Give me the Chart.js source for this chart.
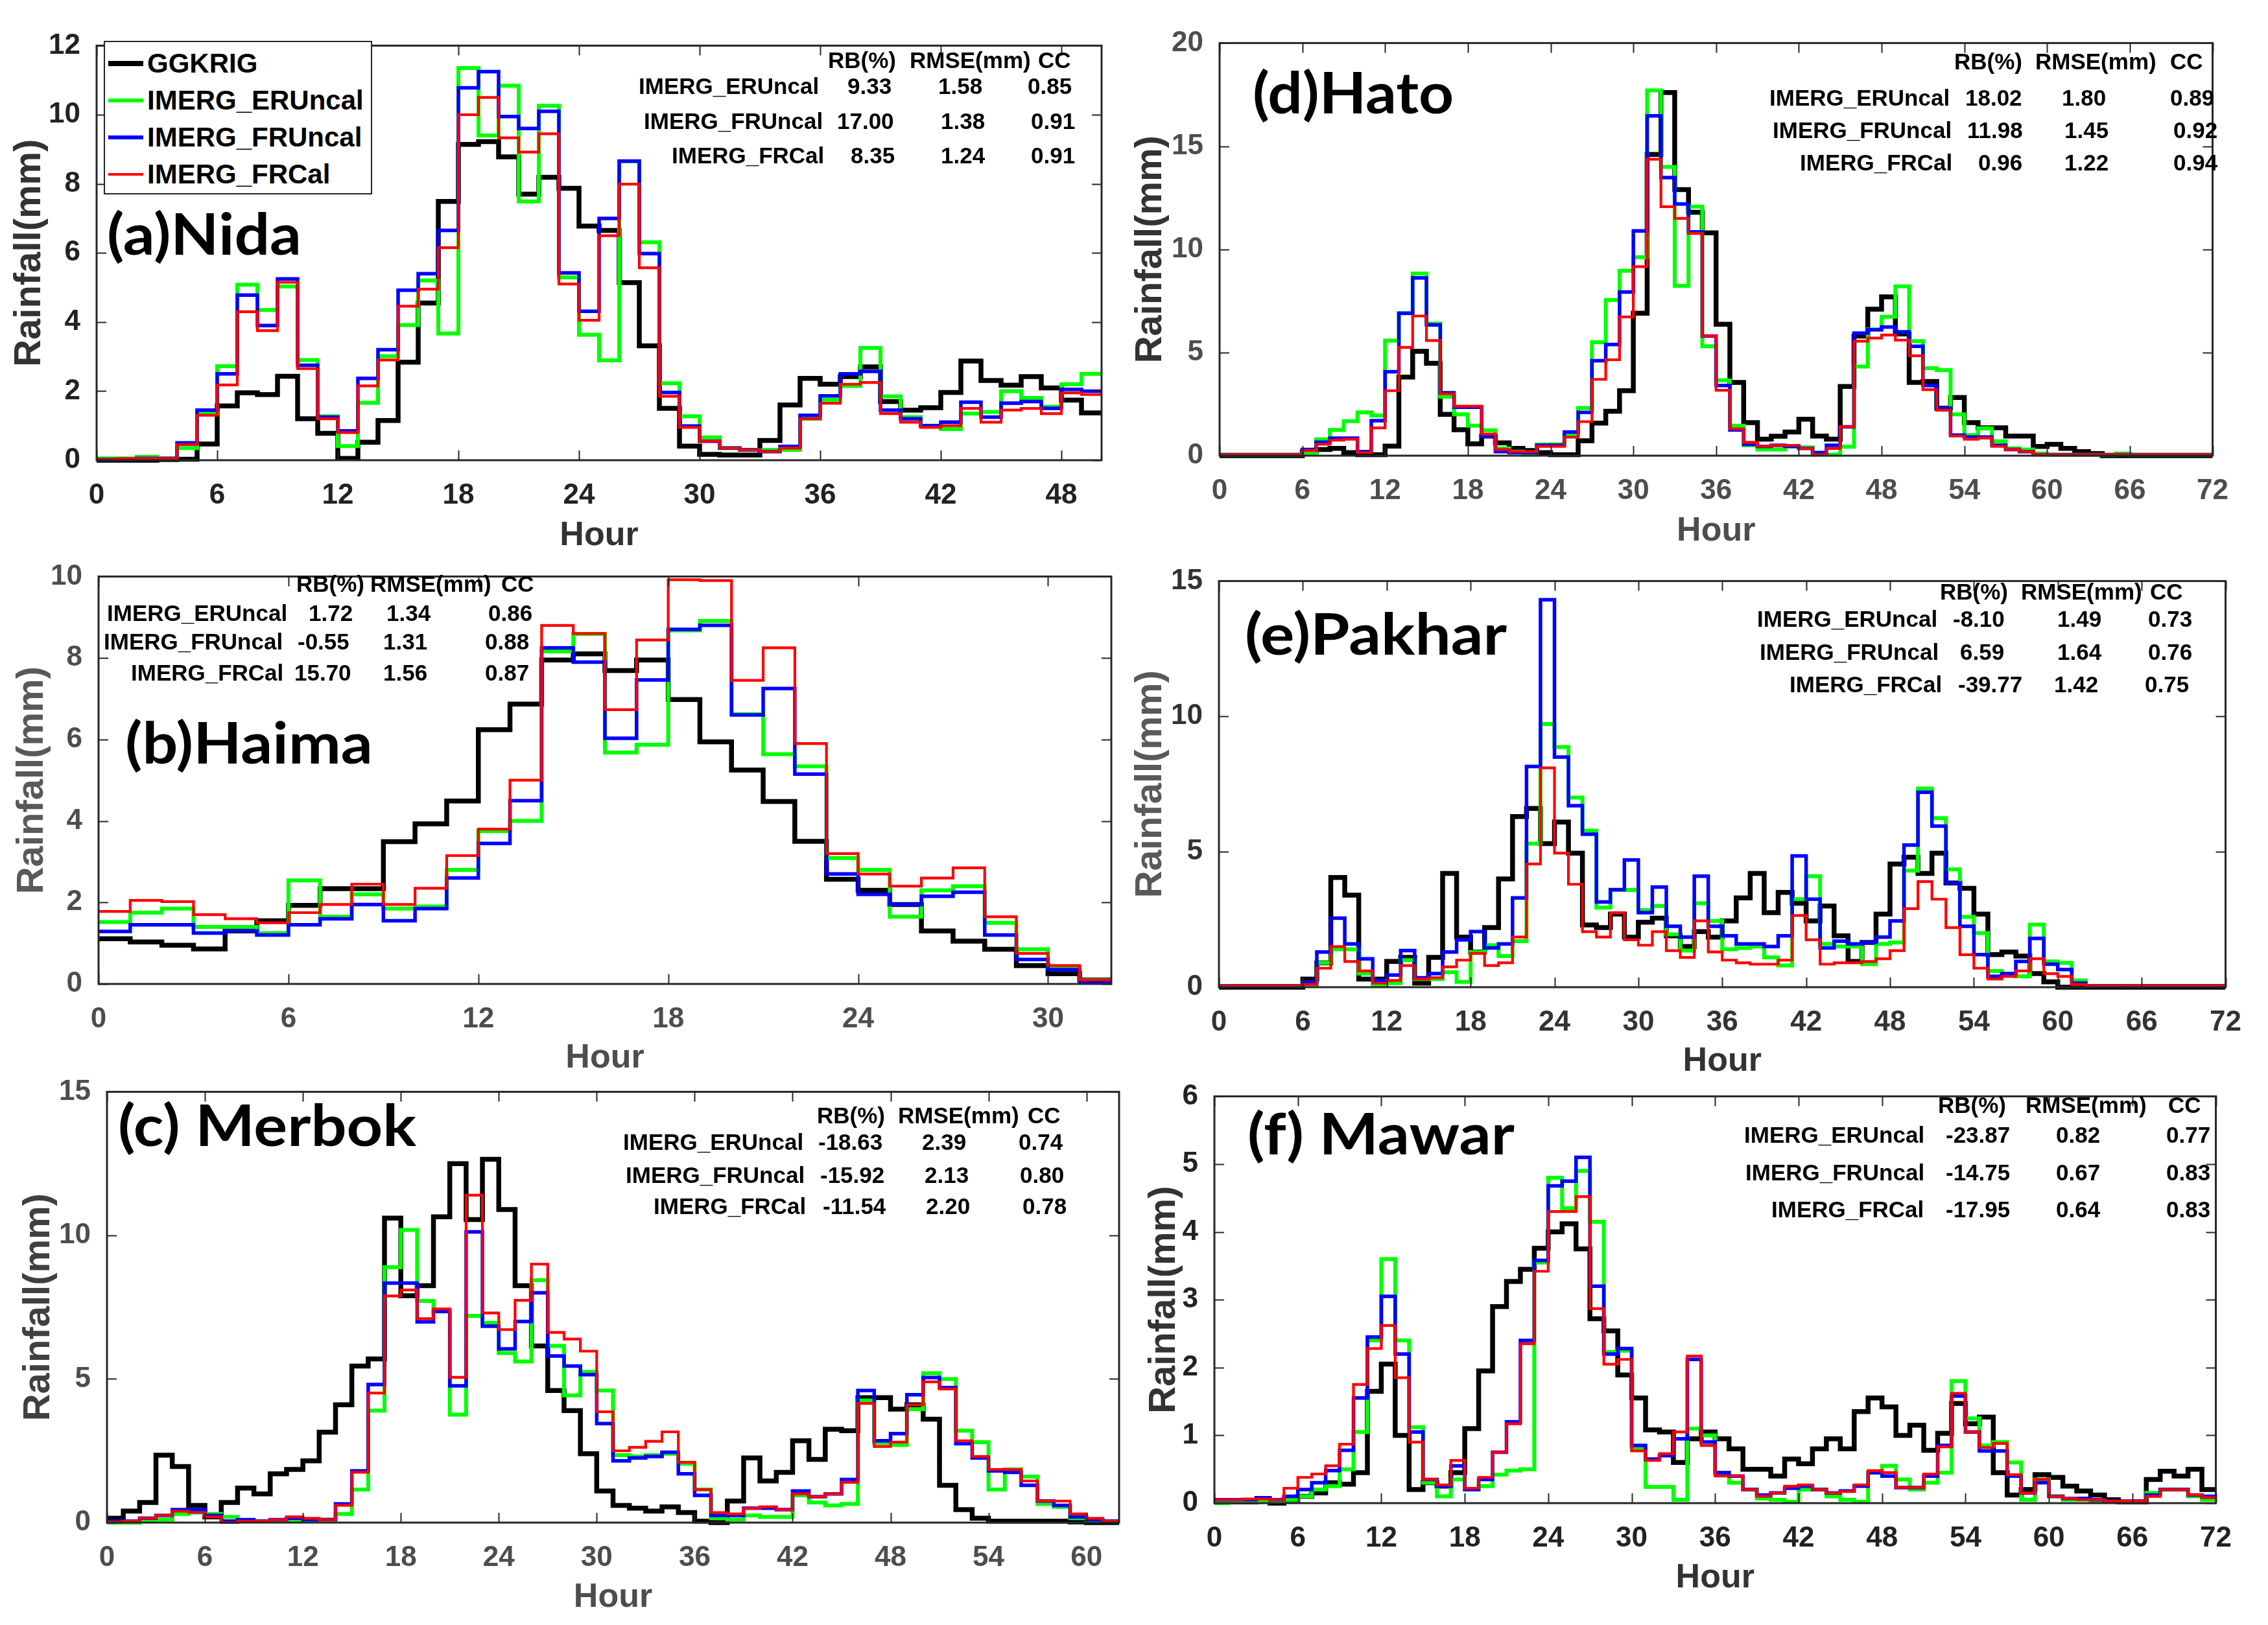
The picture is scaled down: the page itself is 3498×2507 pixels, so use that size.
<!DOCTYPE html>
<html>
<head>
<meta charset="utf-8">
<script src="https://cdn.jsdelivr.net/npm/chart.js@4.4.1/dist/chart.umd.min.js"></script>
<style>
  body { margin: 0; background: #fff; width: 3498px; height: 2507px; position: relative; overflow: hidden; }
  canvas { position: absolute; }
  .t { position: absolute; white-space: nowrap; font-family: "Liberation Sans", Arial, sans-serif; font-weight: bold; color: #000; z-index: 5; }
  .lab { font-family: Lato, "Open Sans", sans-serif; transform-origin: 0 0; }
  .legend { position: absolute; border: 2.5px solid #262626; background: #fff; z-index: 4; box-sizing: border-box; }
  .swatch { position: absolute; z-index: 5; }
</style>
</head>
<body>
<script>
// ---- data (hourly rainfall, mm) ----
const seriesNames = ["GGKRIG", "IMERG_ERUncal", "IMERG_FRUncal", "IMERG_FRCal"];
const statHeader = ["RB(%)", "RMSE(mm)", "CC"];
const statNames = ["IMERG_ERUncal", "IMERG_FRUncal", "IMERG_FRCal"];

// (a) Nida, 50 h
const nidaGG = [0,0,0,0.02,0.03,0.47,1.57,1.95,1.9,2.43, 1.2,0.78,0.05,0.52,1.15,2.84,4.55,7.49,9.14,9.22,
  8.78,7.7,8.19,7.87,6.78,6.65,5.14,3.31,1.5,0.41, 0.17,0.15,0.15,0.57,1.6,2.37,2.2,2.42,2.7,1.7,
  1.45,1.52,1.96,2.87,2.31,2.17,2.42,2.09,1.74,1.37];
const nidaER = [0.05,0.05,0.1,0.05,0.35,1.35,2.72,5.08,4.35,5.03, 2.9,1.27,0.41,1.66,3.01,3.91,5.2,3.67,11.35,9.4,
  10.84,7.49,10.26,5.29,3.63,2.89,8.65,6.31,2.23,1.27, 0.66,0.35,0.3,0.3,0.3,1.2,1.75,2.15,3.25,1.85,
  1.25,1.0,0.9,1.35,1.4,2.0,1.8,1.55,2.2,2.5];
const nidaFR = [0.02,0.02,0.05,0.05,0.5,1.45,2.5,4.78,3.9,5.25, 2.75,1.25,0.85,2.37,3.2,4.92,5.4,6.65,10.78,11.25,
  9.95,9.6,10.1,5.42,4.31,7.0,8.66,5.98,1.96,0.99, 0.55,0.35,0.3,0.25,0.4,1.3,1.86,2.5,2.57,1.45,
  1.2,1.0,1.1,1.68,1.25,1.65,1.7,1.5,2.05,2.0];
const nidaFRC = [0.02,0.05,0.05,0.05,0.45,1.3,2.18,4.3,3.75,5.15, 2.65,1.2,0.8,2.15,2.9,4.46,4.95,6.15,10.0,10.5,
  9.33,8.92,9.45,5.1,4.05,6.5,7.99,5.57,1.85,0.95, 0.55,0.35,0.3,0.25,0.35,1.2,1.65,2.2,2.25,1.35,
  1.1,0.95,1.0,1.5,1.1,1.45,1.5,1.35,1.95,1.9];
const nidaStats = [["9.33", "1.58", "0.85"], ["17.00", "1.38", "0.91"], ["8.35", "1.24", "0.91"]];

// (d) Hato, 72 h
const hatoGG = [0,0,0,0,0,0, 0.2,0.3,0.35,0.15,0.05,0.05, 0.46,3.81,5.06,4.48,2.0,1.26, 0.57,0.95,0.62,0.35,0.25,0.15,
  0.05,0.05,0.72,1.58,2.15,3.15, 6.9,14.6,17.6,12.9,11.8,10.8, 6.37,3.55,1.6,0.8,0.94,1.15, 1.77,0.95,0.8,3.35,5.8,7.1,
  7.7,5.9,3.55,3.6,2.3,2.82, 1.6,1.35,1.35,0.95,0.95,0.45, 0.55,0.35,0.2,0.1,0,0, 0,0,0,0,0,0];
const hatoER = [0.05,0.05,0.05,0.05,0.05,0.05, 0.1,0.79,1.25,1.67,2.1,1.95, 5.58,6.9,8.83,6.4,2.86,2.0, 1.45,1.23,0.35,0.2,0.05,0.54,
  0.55,1.0,2.31,5.5,7.55,8.96, 9.62,17.7,14.0,8.23,12.07,5.3, 3.65,1.45,0.5,0.3,0.3,0.45, 0.4,0.05,0.05,0.43,4.32,6.12,
  6.73,8.21,5.55,4.24,4.15,2.0, 1.0,1.33,0.7,0.35,0.3,0.1, 0.05,0.05,0.05,0.05,0.05,0.1, 0.05,0.05,0.05,0.05,0.05,0.05];
const hatoFR = [0.05,0.05,0.05,0.05,0.05,0.05, 0.3,0.65,0.85,0.85,0.2,1.7, 4.07,6.9,8.62,6.34,3.05,2.35, 2.35,0.95,0.2,0.15,0.15,0.5,
  0.5,1.15,2.1,4.6,5.39,7.93, 10.89,16.47,13.48,12.2,10.85,5.8, 3.4,1.25,0.55,0.45,0.5,0.45, 0.35,0.15,0.5,1.4,5.94,6.1,
  6.24,6.0,5.3,3.4,2.3,1.0, 0.9,0.9,0.5,0.3,0.2,0.05, 0.05,0.05,0.05,0.05,0.05,0.05, 0.05,0.05,0.05,0.05,0.05,0.05];
const hatoFRC = [0.05,0.05,0.05,0.05,0.05,0.05, 0.25,0.55,0.75,0.8,0.15,1.35, 3.15,5.25,6.77,5.58,3.0,2.4, 2.4,1.05,0.3,0.2,0.2,0.45,
  0.45,0.9,1.65,3.7,4.65,6.73, 9.16,14.37,12.07,11.5,10.77,5.8, 3.17,1.3,0.65,0.45,0.5,0.5, 0.35,0.05,0.35,1.4,5.55,5.7,
  5.85,5.6,4.84,3.2,2.2,0.95, 0.8,0.85,0.45,0.3,0.2,0.05, 0.05,0.05,0.05,0.05,0.05,0.05, 0.05,0.05,0.05,0.05,0.05,0.05];
const hatoStats = [["18.02", "1.80", "0.89"], ["11.98", "1.45", "0.92"], ["0.96", "1.22", "0.94"]];

// (b) Haima, 32 h
const haimaGG = [1.11,1.03,0.95,0.86,1.3,1.55,1.93,2.34,2.34,3.49, 3.93,4.49,6.24,6.87,7.95,8.1,7.69,7.95,6.98,5.94,
  5.25,4.48,3.5,2.57,2.3,1.95,1.3,1.05,0.85,0.45, 0.25,0.1];
const haimaER = [1.52,1.75,1.85,1.4,1.4,1.25,2.54,1.65,2.2,1.85, 1.9,2.8,3.75,4.0,8.16,8.59,5.68,5.87,8.68,8.91,
  6.62,5.64,5.34,3.09,2.8,1.65,2.3,2.4,1.5,0.85, 0.4,0.1];
const haimaFR = [1.29,1.45,1.45,1.25,1.3,1.2,1.45,1.6,1.95,1.55, 1.85,2.6,3.45,4.5,8.25,7.9,6.03,7.46,8.7,8.8,
  6.6,7.25,5.15,2.7,2.2,1.95,2.15,2.25,1.2,0.6, 0.35,0.05];
const haimaFRC = [1.78,2.05,2.02,1.7,1.6,1.5,1.75,1.95,2.45,1.95, 2.35,3.15,3.8,5.0,8.8,8.6,6.73,8.44,9.92,9.9,
  7.45,8.25,5.9,3.2,2.7,2.4,2.6,2.85,1.65,0.75, 0.45,0.1];
const haimaStats = [["1.72", "1.34", "0.86"], ["-0.55", "1.31", "0.88"], ["15.70", "1.56", "0.87"]];

// (e) Pakhar, 72 h
const pakharGG = [0,0,0,0,0,0, 0.3,0.9,4.05,3.4,0.3,0.3, 0.95,1.1,0.15,1.1,4.2,1.85, 1.3,2.2,4.0,6.3,6.6,5.3,
  6.1,4.95,2.3,2.2,2.7,1.85, 2.4,2.55,1.9,1.5,2.05,1.85, 2.45,3.3,4.2,2.75,3.5,3.1, 2.45,3.0,1.9,0.95,1.65,2.7,
  4.55,4.8,4.2,4.95,3.85,3.65, 2.7,1.2,1.3,1.15,0.5,0.2, 0,0,0,0,0,0, 0,0,0,0,0,0];
const pakharER = [0.05,0.05,0.05,0.05,0.05,0.05, 0.1,0.9,1.4,1.4,0.5,0.05, 0.15,1.0,0.3,0.3,0.55,0.2, 1.3,1.55,1.15,1.7,5.3,9.72,
  8.87,7.0,5.78,2.94,3.59,3.59, 2.85,3.0,1.95,1.35,3.1,2.45, 1.4,1.45,1.5,1.1,0.8,3.25, 4.1,1.6,1.5,1.5,0.85,1.6,
  1.65,4.3,7.34,6.24,4.35,2.6, 2.0,0.6,0.45,0.4,2.31,0.95, 0.9,0.25,0.05,0.05,0.05,0.05, 0.05,0.05,0.05,0.05,0.05,0.05];
const pakharFR = [0.05,0.05,0.05,0.05,0.05,0.05, 0.2,1.3,2.55,1.6,1.05,0.25, 0.45,1.35,0.35,0.5,1.3,1.75, 2.05,1.45,1.6,3.3,8.15,14.31,
  8.5,6.7,5.65,3.15,3.6,4.7, 2.75,3.7,2.25,1.85,4.1,2.25, 1.9,1.6,1.6,1.5,1.9,4.85, 3.25,1.45,1.7,1.6,1.65,1.85,
  2.45,5.25,7.2,5.95,3.85,2.25, 1.2,0.4,0.5,0.95,1.8,0.85, 0.65,0.15,0.05,0.05,0.05,0.05, 0.05,0.05,0.05,0.05,0.05,0.05];
const pakharFRC = [0.05,0.05,0.05,0.05,0.05,0.05, 0.1,0.7,1.5,0.95,0.6,0.15, 0.25,0.8,0.3,0.35,0.75,1.0, 1.25,0.8,0.9,1.85,4.55,8.1,
  4.95,3.8,2.05,1.85,2.75,1.75, 1.55,2.05,1.35,1.1,2.45,1.3, 1.0,0.9,0.85,0.85,1.0,2.65, 1.75,0.85,0.9,0.9,0.95,1.05,
  1.35,2.9,3.9,3.25,2.2,1.2, 0.7,0.3,0.4,0.6,1.05,0.5, 0.4,0.1,0.05,0.05,0.05,0.05, 0.05,0.05,0.05,0.05,0.05,0.05];
const pakharStats = [["-8.10", "1.49", "0.73"], ["6.59", "1.64", "0.76"], ["-39.77", "1.42", "0.75"]];

// (c) Merbok, 62 h
const merbokGG = [0.15,0.4,0.7,2.35,1.95,0.6,0.2,0.7,1.2,1.0, 1.7,1.85,2.15,3.15,4.1,5.45,5.7,10.6,7.9,8.25,
  10.65,12.5,10.55,12.65,10.9,8.25,6.15,4.6,3.9,2.4, 1.1,0.6,0.5,0.4,0.55,0.35,0.05,0.0,0.75,2.25,
  1.45,1.75,2.85,2.2,3.25,3.2,4.35,4.35,3.95,4.1, 3.6,1.3,0.45,0.15,0.05,0.05,0.05,0.05,0.05,0.02, 0,0];
const merbokER = [0,0,0.05,0.1,0.3,0.35,0.3,0.2,0.05,0.05, 0.05,0.05,0.05,0.1,0.3,1.15,3.9,8.89,10.19,7.72,
  7.35,3.76,7.2,6.95,5.9,5.61,8.44,6.15,4.43,5.25, 4.6,2.35,2.3,2.35,2.4,2.05,1.15,0.15,0.1,0.25,
  0.2,0.2,0.95,0.7,0.6,0.65,4.25,2.77,2.7,3.95, 5.2,5.0,3.2,2.8,1.15,1.85,1.6,0.65,0.55,0.15, 0.05,0.05];
const merbokFR = [0.05,0.05,0.15,0.25,0.45,0.45,0.25,0.05,0.1,0.05, 0.1,0.15,0.1,0.1,0.65,1.8,4.81,8.34,8.34,6.99,
  7.35,4.76,10.12,6.84,6.05,7.0,8.0,5.8,5.45,5.15, 3.45,2.15,2.25,2.3,2.45,1.7,0.95,0.25,0.25,0.5,
  0.5,0.45,1.1,0.9,1.0,1.5,4.6,2.85,3.1,4.45, 5.05,4.7,2.75,2.25,1.8,1.75,1.3,0.75,0.6,0.2, 0.1,0.05];
const merbokFRC = [0.02,0.05,0.15,0.25,0.4,0.35,0.2,0.0,0.05,0.05, 0.1,0.2,0.15,0.1,0.6,1.75,4.51,7.89,8.1,7.1,
  7.44,5.06,11.4,7.3,6.72,7.74,9.0,6.62,6.39,5.97, 3.86,2.5,2.62,2.83,3.16,2.1,1.15,0.35,0.3,0.5,
  0.55,0.45,1.0,0.9,1.0,1.4,4.15,2.65,2.8,4.1, 4.9,4.65,2.85,2.3,1.85,1.85,1.45,0.75,0.75,0.3, 0.15,0.05];
const merbokStats = [["-18.63", "2.39", "0.74"], ["-15.92", "2.13", "0.80"], ["-11.54", "2.20", "0.78"]];

// (f) Mawar, 72 h
const mawarGG = [0.02,0.02,0.02,0.03,0.0,0.05, 0.1,0.15,0.3,0.28,0.45,1.65, 2.05,1.0,0.2,0.3,0.25,0.45, 1.1,1.95,2.9,3.27,3.45,3.76,
  4.0,4.12,3.75,2.72,2.54,1.89, 1.55,1.08,1.05,0.6,0.95,1.05, 0.95,0.8,0.5,0.5,0.4,0.65, 0.58,0.8,0.95,0.8,1.35,1.55,
  1.42,1.0,1.15,0.78,1.03,1.47, 1.17,1.27,0.45,0.12,0.2,0.42, 0.38,0.25,0.18,0.12,0.05,0.02, 0.02,0.35,0.47,0.4,0.5,0.2];
const mawarER = [0,0.02,0.02,0.03,0.02,0.05, 0.1,0.2,0.25,0.5,1.05,2.4, 3.6,2.4,1.12,0.3,0.1,0.35, 0.2,0.25,0.42,0.48,0.5,3.55,
  4.8,4.35,4.9,4.15,2.23,2.25, 0.8,0.24,0.24,0.05,1.1,1.0, 0.45,0.3,0.2,0.07,0.05,0.02, 0.2,0.2,0.1,0.05,0.02,0.45,
  0.55,0.35,0.2,0.3,0.45,1.8, 1.25,0.85,0.9,0.6,0.05,0.35, 0.1,0.05,0.05,0.03,0.02,0.02, 0.02,0.15,0.2,0.2,0.1,0.05];
const mawarFR = [0.05,0.05,0.05,0.08,0.05,0.1, 0.2,0.3,0.48,0.78,1.55,2.45, 3.05,2.2,1.05,0.35,0.25,0.55, 0.2,0.35,0.75,1.2,2.4,3.58,
  4.68,4.75,5.1,3.2,2.2,2.28, 0.85,0.65,0.7,0.95,2.12,0.9, 0.45,0.4,0.2,0.12,0.15,0.22, 0.25,0.2,0.15,0.18,0.25,0.45,
  0.4,0.23,0.23,0.4,0.85,1.58, 1.05,0.77,0.77,0.4,0.15,0.3, 0.1,0.07,0.07,0.05,0.03,0.02, 0.03,0.12,0.2,0.2,0.12,0.1];
const mawarFRC = [0.05,0.05,0.06,0.06,0.05,0.22, 0.38,0.43,0.55,0.87,1.75,2.28, 2.62,1.85,0.9,0.35,0.27,0.63, 0.22,0.38,0.75,1.17,2.35,3.42,
  4.3,4.3,4.52,2.87,2.05,2.12, 0.77,0.63,0.73,1.05,2.17,0.85, 0.4,0.4,0.2,0.1,0.15,0.25, 0.27,0.2,0.15,0.17,0.27,0.48,
  0.45,0.23,0.23,0.43,0.83,1.62, 1.05,0.82,0.88,0.42,0.15,0.35, 0.1,0.07,0.05,0.05,0.03,0.03, 0.03,0.1,0.2,0.2,0.12,0.08];
const mawarStats = [["-23.87", "0.82", "0.77"], ["-14.75", "0.67", "0.83"], ["-17.95", "0.64", "0.83"]];

// ---- styles & layout ----
const seriesStyle = [
  { color: "#000000", width: 7.5 },
  { color: "#00ff00", width: 6 },
  { color: "#0000ff", width: 5.5 },
  { color: "#ff0000", width: 4.2 }
];
const FONT = "Liberation Sans";
const TICK_SIZE = 44, X_TITLE_SIZE = 52, Y_TITLE_SIZE = 58, STAT_SIZE = 35, LABEL_SIZE = 88;
const PAD_T = 20, PAD_R = 20;
const X_STEP = 6;

// lab: [left, baseline, target width]
const panels = [
  { label: "(a)Nida", series: [nidaGG, nidaER, nidaFR, nidaFRC], stats: nidaStats,
    xMax: 50, yMax: 12, yStep: 2, plot: [149, 47, 1699, 710], yTitleX: 46, xTitleY: 827,
    tickColor: "#222", xTitleColor: "#333", yTitleColor: "#333", lab: [165, 393, 300],
    head: [1277, 1403, 1601, 105],
    rows: [[145, 985, 1307, 1447, 1585], [199, 993, 1291, 1451, 1590], [252, 1036, 1312, 1451, 1590]] },
  { label: "(d)Hato", series: [hatoGG, hatoER, hatoFR, hatoFRC], stats: hatoStats,
    xMax: 72, yMax: 20, yStep: 5, plot: [1881, 43, 3437, 703], yTitleX: 1775, xTitleY: 820,
    tickColor: "#4d4d4d", xTitleColor: "#4d4d4d", yTitleColor: "#333", lab: [1932, 175, 310],
    head: [3014, 3139, 3347, 107],
    rows: [[163, 2729, 3031, 3180, 3347], [213, 2734, 3034, 3184, 3352], [263, 2776, 3051, 3184, 3352]] },
  { label: "(b)Haima", series: [haimaGG, haimaER, haimaFR, haimaFRC], stats: haimaStats,
    xMax: 32, yMax: 10, yStep: 2, plot: [152, 866, 1714, 1518], yTitleX: 50, xTitleY: 1633,
    tickColor: "#4d4d4d", xTitleColor: "#4d4d4d", yTitleColor: "#595959", lab: [193, 1178, 382],
    head: [457, 571, 773, 913],
    rows: [[958, 165, 476, 596, 753], [1002, 160, 459, 591, 748], [1050, 202, 454, 591, 748]] },
  { label: "(e)Pakhar", series: [pakharGG, pakharER, pakharFR, pakharFRC], stats: pakharStats,
    xMax: 72, yMax: 15, yStep: 5, plot: [1880, 873, 3457, 1523], yTitleX: 1775, xTitleY: 1638,
    tickColor: "#333", xTitleColor: "#333", yTitleColor: "#595959", lab: [1920, 1010, 404],
    head: [2992, 3117, 3316, 925],
    rows: [[967, 2710, 3012, 3173, 3313], [1018, 2714, 3023, 3173, 3313], [1068, 2760, 3020, 3168, 3308]] },
  { label: "(c) Merbok", series: [merbokGG, merbokER, merbokFR, merbokFRC], stats: merbokStats,
    xMax: 62, yMax: 15, yStep: 5, plot: [165, 1661, 1726, 2349], yTitleX: 60, xTitleY: 2465,
    tickColor: "#4d4d4d", xTitleColor: "#4d4d4d", yTitleColor: "#404040", lab: [182, 1768, 460],
    head: [1260, 1385, 1585, 1733],
    rows: [[1774, 961, 1262, 1422, 1571], [1825, 965, 1265, 1426, 1573], [1873, 1008, 1269, 1428, 1577]] },
  { label: "(f) Mawar", series: [mawarGG, mawarER, mawarFR, mawarFRC], stats: mawarStats,
    xMax: 72, yMax: 6, yStep: 1, plot: [1873, 1668, 3442, 2319], yTitleX: 1796, xTitleY: 2435,
    tickColor: "#222", xTitleColor: "#333", yTitleColor: "#333", lab: [1924, 1781, 412],
    head: [2989, 3124, 3344, 1717],
    rows: [[1763, 2690, 3001, 3171, 3341], [1821, 2692, 3001, 3171, 3341], [1878, 2732, 3001, 3171, 3341]] }
];

function stairs(values) {
  const pts = values.map((v, i) => ({ x: i, y: v }));
  pts.push({ x: values.length, y: values[values.length - 1] });
  return pts;
}

function evenTicks(max, step) {
  const out = [];
  for (let v = 0; v <= max + 1e-9; v += step) out.push({ value: v });
  return out;
}

function put(str, x, base, size, cls, asc) {
  const d = document.createElement("div");
  d.className = "t" + (cls ? " " + cls : "");
  d.textContent = str;
  d.style.fontSize = size + "px";
  d.style.lineHeight = size + "px";
  d.style.left = x + "px";
  d.style.top = (base - asc * size) + "px";
  document.body.appendChild(d);
  return d;
}

// inward tick marks on all four sides plus the axes box
const boxPlugin = {
  id: "boxTicks",
  afterDraw(chart) {
    const { ctx, chartArea: a, scales: { x, y } } = chart;
    ctx.save();
    ctx.strokeStyle = "#262626";
    ctx.lineWidth = 2;
    ctx.beginPath();
    x.ticks.forEach(t => {
      const px = Math.round(x.getPixelForValue(t.value)) + 0.5;
      ctx.moveTo(px, a.bottom); ctx.lineTo(px, a.bottom - 15);
      ctx.moveTo(px, a.top); ctx.lineTo(px, a.top + 15);
    });
    y.ticks.forEach(t => {
      const py = Math.round(y.getPixelForValue(t.value)) + 0.5;
      ctx.moveTo(a.left, py); ctx.lineTo(a.left + 15, py);
      ctx.moveTo(a.right, py); ctx.lineTo(a.right - 15, py);
    });
    ctx.stroke();
    ctx.lineWidth = 3;
    ctx.strokeRect(a.left, a.top, a.right - a.left, a.bottom - a.top);
    ctx.restore();
  }
};

panels.forEach(p => {
  const [pl, pt, pr, pb] = p.plot;
  const cLeft = Math.round(p.yTitleX - 0.6 * Y_TITLE_SIZE);
  const cTop = pt - PAD_T;
  const cW = pr + PAD_R - cLeft;
  const cH = Math.round(p.xTitleY + 0.6 * X_TITLE_SIZE) - cTop;
  const yw = pl - cLeft;
  const xh = cTop + cH - pb;

  const cv = document.createElement("canvas");
  cv.width = cW; cv.height = cH;
  cv.style.left = cLeft + "px"; cv.style.top = cTop + "px";
  cv.style.width = cW + "px"; cv.style.height = cH + "px";
  document.body.appendChild(cv);

  new Chart(cv, {
    type: "line",
    data: {
      datasets: p.series.map((vals, i) => ({
        label: seriesNames[i],
        data: stairs(vals),
        borderColor: seriesStyle[i].color,
        borderWidth: seriesStyle[i].width,
        stepped: "before",
        pointRadius: 0,
        fill: false,
        borderJoinStyle: "miter",
        borderCapStyle: "butt",
        order: 4 - i,
        clip: { left: 0, top: 0, right: 0, bottom: 8 }
      }))
    },
    options: {
      responsive: false,
      animation: false,
      events: [],
      layout: { padding: { top: PAD_T, right: PAD_R, left: 0, bottom: 0 } },
      plugins: { legend: { display: false }, tooltip: { enabled: false }, title: { display: false } },
      scales: {
        x: {
          type: "linear", min: 0, max: p.xMax,
          afterFit(s) { s.height = xh; },
          afterBuildTicks(s) { s.ticks = evenTicks(p.xMax, X_STEP); },
          grid: { display: false }, border: { display: false },
          ticks: { padding: 20, maxRotation: 0, autoSkip: false, color: p.tickColor,
                   font: { family: FONT, size: TICK_SIZE, weight: "bold" } },
          title: { display: true, text: "Hour", padding: 0, color: p.xTitleColor,
                   font: { family: FONT, size: X_TITLE_SIZE, weight: "bold" } }
        },
        y: {
          type: "linear", min: 0, max: p.yMax,
          afterFit(s) { s.width = yw; },
          afterBuildTicks(s) { s.ticks = evenTicks(p.yMax, p.yStep); },
          grid: { display: false }, border: { display: false },
          ticks: { padding: 17, color: p.tickColor,
                   font: { family: FONT, size: TICK_SIZE, weight: "bold" } },
          title: { display: true, text: "Rainfall(mm)", padding: 0, color: p.yTitleColor,
                   font: { family: FONT, size: Y_TITLE_SIZE, weight: "bold" } }
        }
      }
    },
    plugins: [boxPlugin]
  });

  // panel label, stretched sideways to the width it has in the figure
  const lab = put(p.label, p.lab[0], p.lab[1], LABEL_SIZE, "lab", 0.887);
  const w = lab.getBoundingClientRect().width;
  if (w > 0) lab.style.transform = "scaleX(" + (p.lab[2] / w).toFixed(3) + ")";

  // statistics table
  statHeader.forEach((h, j) => put(h, p.head[j], p.head[3], STAT_SIZE, "", 0.8465));
  p.rows.forEach((r, k) => {
    put(statNames[k], r[1], r[0], STAT_SIZE, "", 0.8465);
    p.stats[k].forEach((v, j) => put(v, r[2 + j], r[0], STAT_SIZE, "", 0.8465));
  });
});

// legend inside panel (a)
const lg = document.createElement("div");
lg.className = "legend";
Object.assign(lg.style, { left: "160px", top: "63px", width: "414px", height: "237px" });
document.body.appendChild(lg);
const legendBase = [113, 170, 227, 284];
seriesNames.forEach((name, i) => {
  const sw = document.createElement("div");
  sw.className = "swatch";
  const h = Math.round(seriesStyle[i].width);
  Object.assign(sw.style, { left: "167px", width: "54px", height: h + "px",
    top: (legendBase[i] - 15 - h / 2) + "px", background: seriesStyle[i].color });
  document.body.appendChild(sw);
  put(name, 227, legendBase[i], 42, "", 0.8465);
});
</script>
</body>
</html>
